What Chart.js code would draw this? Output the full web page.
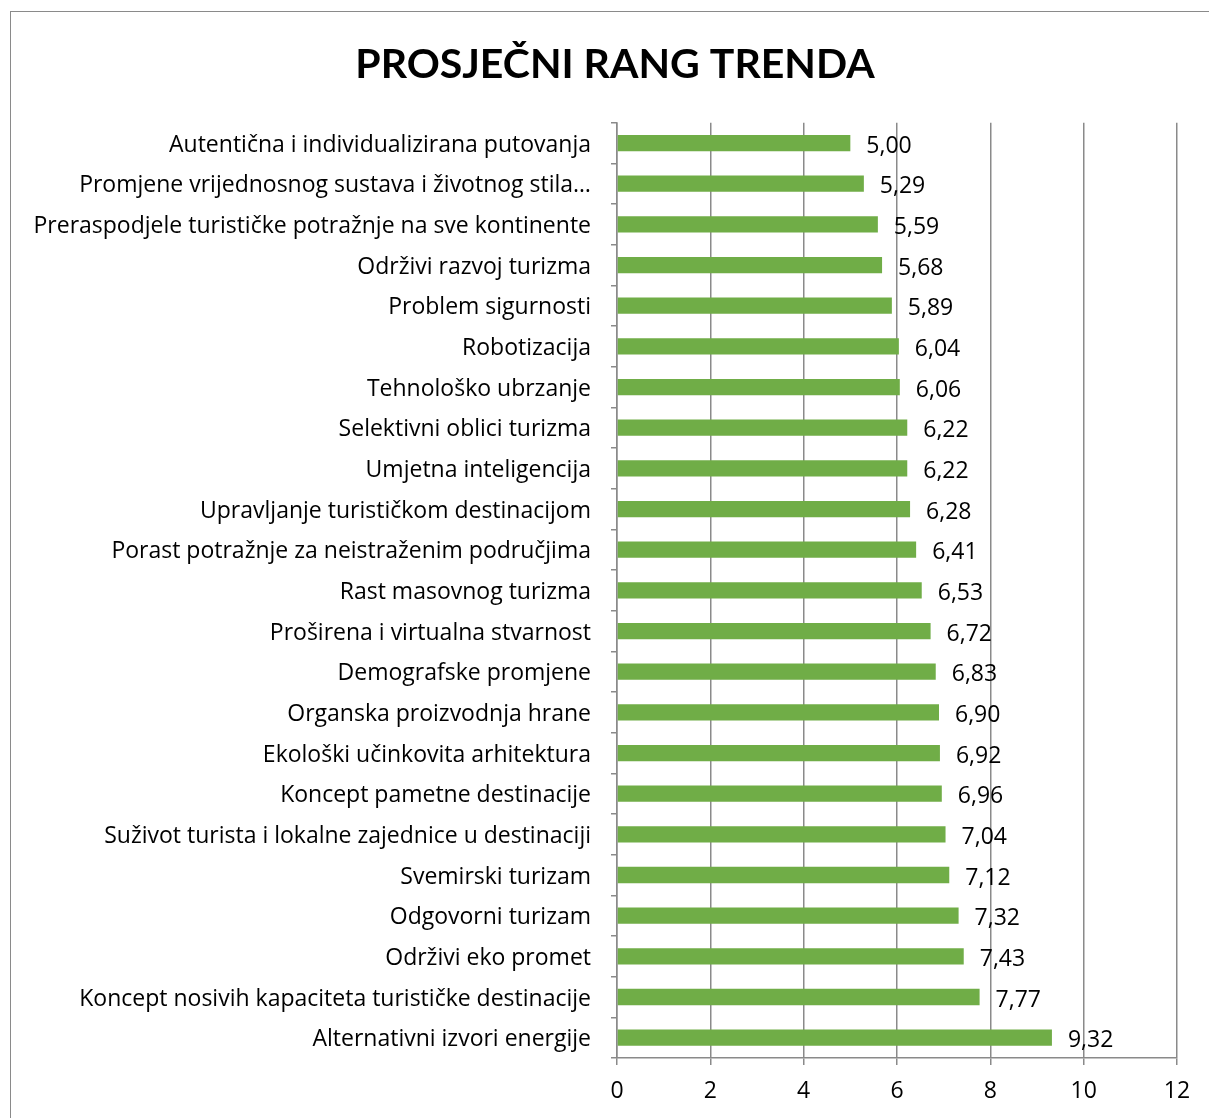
<!DOCTYPE html>
<html lang="hr">
<head>
    <meta charset="UTF-8">
    <title>Prosječni rang trenda</title>
    <script src="https://cdn.jsdelivr.net/npm/chart.js"></script>
    <style>
        body { margin: 0; background: #fff; overflow: hidden; }
        #wrap { position: relative; width: 1209px; height: 1118px; }
        #okvir {
            position: absolute; left: 10px; top: 11px;
            width: 1300px; height: 1300px;
            border: 1px solid #8a8a8a;
        }
        #wrap canvas { position: absolute; left: 0; top: 0; }
    </style>
</head>
<body>
<div id="wrap">
    <div id="okvir"></div>
    <canvas id="rang"></canvas>
</div>

<script>
    // podaci s grafa
    const trendovi = [
        "Autentična i individualizirana putovanja",
        "Promjene vrijednosnog sustava i životnog stila…",
        "Preraspodjele turističke potražnje na sve kontinente",
        "Održivi razvoj turizma",
        "Problem sigurnosti",
        "Robotizacija",
        "Tehnološko ubrzanje",
        "Selektivni oblici turizma",
        "Umjetna inteligencija",
        "Upravljanje turističkom destinacijom",
        "Porast potražnje za neistraženim područjima",
        "Rast masovnog turizma",
        "Proširena i virtualna stvarnost",
        "Demografske promjene",
        "Organska proizvodnja hrane",
        "Ekološki učinkovita arhitektura",
        "Koncept pametne destinacije",
        "Suživot turista i lokalne zajednice u destinaciji",
        "Svemirski turizam",
        "Odgovorni turizam",
        "Održivi eko promet",
        "Koncept nosivih kapaciteta turističke destinacije",
        "Alternativni izvori energije"
    ];

    const prosjecniRang = [
        5.00, 5.29, 5.59, 5.68, 5.89, 6.04, 6.06, 6.22, 6.22, 6.28, 6.41, 6.53,
        6.72, 6.83, 6.90, 6.92, 6.96, 7.04, 7.12, 7.32, 7.43, 7.77, 9.32
    ];

    const xOznake = [0, 2, 4, 6, 8, 10, 12];

    const naslov = 'PROSJEČNI RANG TRENDA';

    const font = "'Open Sans'";
    const velicina = 23;
    const sivaLinija = '#8a8a8a';

    // naslov - centriran na okvir grafa, ne na canvas
    const naslovPlugin = {
        id: 'naslov',
        afterDraw(chart) {
            const ctx = chart.ctx;
            ctx.save();
            ctx.font = 'bold 41px Lato';
            ctx.fillStyle = '#000';
            ctx.textAlign = 'center';
            ctx.textBaseline = 'alphabetic';
            ctx.fillText(naslov, 615, 78);
            ctx.restore();
        }
    };

    // ispis vrijednosti desno od stupca (5,00 ...)
    const vrijednostiPlugin = {
        id: 'vrijednosti',
        afterDatasetsDraw(chart) {
            const ctx = chart.ctx;
            const meta = chart.getDatasetMeta(0);
            ctx.save();
            ctx.font = velicina + 'px ' + font;
            ctx.fillStyle = '#000';
            ctx.textAlign = 'left';
            ctx.textBaseline = 'middle';
            meta.data.forEach((bar, i) => {
                const txt = prosjecniRang[i].toFixed(2).replace('.', ',');
                ctx.fillText(txt, bar.x + 16, bar.y + 3);
            });
            ctx.restore();
        }
    };

    const ctx = document.getElementById('rang');

    const graf = new Chart(ctx, {
        type: 'bar',
        data: {
            labels: trendovi,
            datasets: [{
                label: 'Prosječni rang',
                data: prosjecniRang,
                backgroundColor: '#70ad47',
                borderWidth: 0,
                barPercentage: 0.4,
                categoryPercentage: 1
            }]
        },
        options: {
            indexAxis: 'y',
            responsive: true,
            maintainAspectRatio: false,
            animation: false,
            layout: {
                padding: { left: 0, right: 32, top: 122.7, bottom: 0 }
            },
            plugins: {
                legend: { display: false },
                tooltip: { enabled: false },
                title: { display: false }
            },
            scales: {
                x: {
                    min: 0,
                    max: 12,
                    afterBuildTicks: (scale) => {
                        scale.ticks = xOznake.map(v => ({ value: v }));
                    },
                    afterFit: (scale) => { scale.height = 60; },
                    grid: {
                        color: sivaLinija,
                        lineWidth: 1.5,
                        tickLength: 7
                    },
                    border: { color: sivaLinija, width: 1.5 },
                    ticks: {
                        color: '#000',
                        padding: 13,
                        font: { family: font, size: velicina }
                    }
                },
                y: {
                    afterFit: (scale) => { scale.width = 617; },
                    grid: {
                        drawOnChartArea: false,
                        color: sivaLinija,
                        lineWidth: 1.5,
                        tickLength: 6
                    },
                    border: { color: sivaLinija, width: 1.5 },
                    ticks: {
                        color: '#000',
                        padding: 20,
                        labelOffset: 2,
                        autoSkip: false,
                        font: { family: font, size: velicina }
                    }
                }
            }
        },
        plugins: [vrijednostiPlugin, naslovPlugin]
    });
</script>
</body>
</html>
